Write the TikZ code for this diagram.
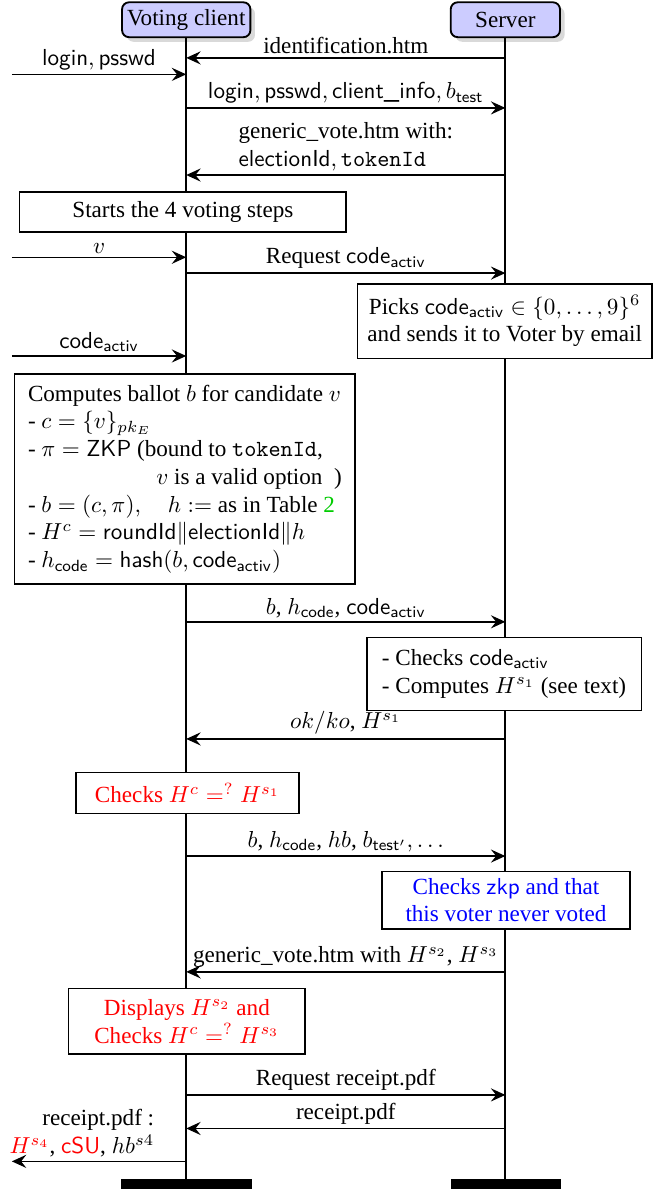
\documentclass[tikz,border=0pt]{standalone}
\usepackage{amsmath}
\usepackage{amssymb}
\usepackage{fontspec}
\setmainfont{Liberation Serif}
\usetikzlibrary{arrows.meta, shadows, calc}

\definecolor{actorblue}{rgb}{0.8,0.8,1}
\definecolor{refgreen}{rgb}{0,0.8,0}

\tikzset{
    actor/.style={draw, thick, rounded corners=3pt, fill=actorblue, inner sep=2pt,
        drop shadow={opacity=0.3, shadow xshift=2pt, shadow yshift=-2pt}},
    lifeend/.style={fill=black, inner sep=0pt, minimum height=0.15cm},
    life/.style={thick},
    msg/.style={semithick, -{Stealth[length=2.2mm, width=2mm, inset=0.8mm]}},
    lbl/.style={above, inner sep=1.5pt},
    stepbox/.style={draw, semithick, fill=white, inner sep=3pt}
}

\begin{document}
\begin{tikzpicture}
    \useasboundingbox (0, 0) rectangle (10.11, -18.07);

    % the two parties and their lifelines
    \node[actor, minimum width=1.95cm, minimum height=0.53cm] (client) at (2.83, -0.3) {Voting client};
    \node[actor, minimum width=1.66cm, minimum height=0.53cm] (server) at (7.68, -0.3) {Server};
    \node[lifeend, minimum width=1.99cm] (clientend) at (2.83, -18.0) {};
    \node[lifeend, minimum width=1.67cm] (serverend) at (7.69, -18.0) {};
    \draw[life] (client) -- (clientend);
    \draw[life] (server) -- (server |- serverend.north);

    \foreach \n/\y in {1/-0.88, 2/-1.13, 3/-1.64, 4/-2.66, 5/-3.91, 6/-4.15, 7/-5.41,
        8/-9.45, 9/-11.23, 10/-13.01, 11/-14.77, 12/-16.64, 13/-17.15, 14/-17.65} {
        \coordinate (c\n) at (2.83, \y);
        \coordinate (s\n) at (7.68, \y);
        \coordinate (o\n) at (0.18, \y);
    }

    % steps
    \node[stepbox, minimum width=4.96cm, minimum height=0.61cm] (start) at (2.78, -3.22) {Starts the 4 voting steps};
    \node[stepbox, align=center, minimum width=4.48cm, minimum height=1.13cm] (pick) at (7.67, -4.88)
        {Picks $\mathsf{code}_{\mathsf{activ}} \in \{0,\ldots,9\}^6$\\ and sends it to Voter by email};
    \node[stepbox, align=left, minimum width=5.17cm, minimum height=3.19cm] (ballot) at (2.81, -7.28) {%
        Computes ballot $b$ for candidate $v$\\
        - $c = \{v\}_{pk_E}$\\
        - $\pi = \mathsf{ZKP}$ (bound to \texttt{tokenId},\\
        \phantom{- $\pi = \mathsf{ZKP}$ (b}$v$ is a valid option\ \ )\\
        - $b = (c,\pi), \quad h :=$ as in Table \textcolor{refgreen}{2}\\
        - $H^c = \mathsf{roundId} \| \mathsf{electionId} \| h$\\
        - $h_{\mathsf{code}} = \mathsf{hash}(b, \mathsf{code}_{\mathsf{activ}})$};
    \node[stepbox, align=left, minimum width=4.17cm, minimum height=1.11cm] (check1) at (7.66, -10.24)
        {- Checks $\mathsf{code}_{\mathsf{activ}}$\\ - Computes $H^{s_1}$ (see text)};
    \node[stepbox, text=red, minimum width=3.39cm, minimum height=0.62cm] (check2) at (2.85, -12.05)
        {Checks $H^c =^? H^{s_1}$};
    \node[stepbox, text=blue, align=center, minimum width=3.77cm, minimum height=0.85cm] (check3) at (7.69, -13.68)
        {Checks \textsf{zkp} and that\\ this voter never voted};
    \node[stepbox, text=red, align=center, minimum width=3.59cm, minimum height=1.0cm] (display) at (2.84, -15.52)
        {Displays $H^{s_2}$ and\\ Checks $H^c =^? H^{s_3}$};

    % messages
    \draw[msg] (s1) -- node[lbl] {identification.htm} (c1);
    \draw[msg] (o2) -- node[lbl] {$\mathsf{login}, \mathsf{psswd}$} (c2);
    \draw[msg] (c3) -- node[lbl] {$\mathsf{login}, \mathsf{psswd}, \textsf{client\_info}, b_{\mathsf{test}}$} (s3);
    \draw[msg] (s4) -- node[lbl, align=left] {generic\_vote.htm with:\\ $\mathsf{electionId}, \mathtt{tokenId}$} (c4);
    \draw[msg] (o5) -- node[lbl] {$v$} (c5);
    \draw[msg] (c6) -- node[lbl] {Request $\mathsf{code}_{\mathsf{activ}}$} (s6);
    \draw[msg] (o7) -- node[lbl] {$\mathsf{code}_{\mathsf{activ}}$} (c7);
    \draw[msg] (c8) -- node[lbl] {$b$, $h_{\mathsf{code}}$, $\mathsf{code}_{\mathsf{activ}}$} (s8);
    \draw[msg] (s9) -- node[lbl] {$ok/ko$, $H^{s_1}$} (c9);
    \draw[msg] (c10) -- node[lbl] {$b$, $h_{\mathsf{code}}$, $hb$, $b_{\mathsf{test}'}, \ldots$} (s10);
    \draw[msg] (s11) -- node[lbl] {generic\_vote.htm with $H^{s_2}$, $H^{s_3}$} (c11);
    \draw[msg] (c12) -- node[lbl] {Request receipt.pdf} (s12);
    \draw[msg] (s13) -- node[lbl] {receipt.pdf} (c13);
    \draw[msg] (c14) -- node[lbl, anchor=south east, pos=0.16, align=right] {receipt.pdf :\\
        \textcolor{red}{$H^{s_4}$}, \textcolor{red}{\textsf{cSU}}, $hb^{s4}$} (o14);
\end{tikzpicture}
\end{document}
